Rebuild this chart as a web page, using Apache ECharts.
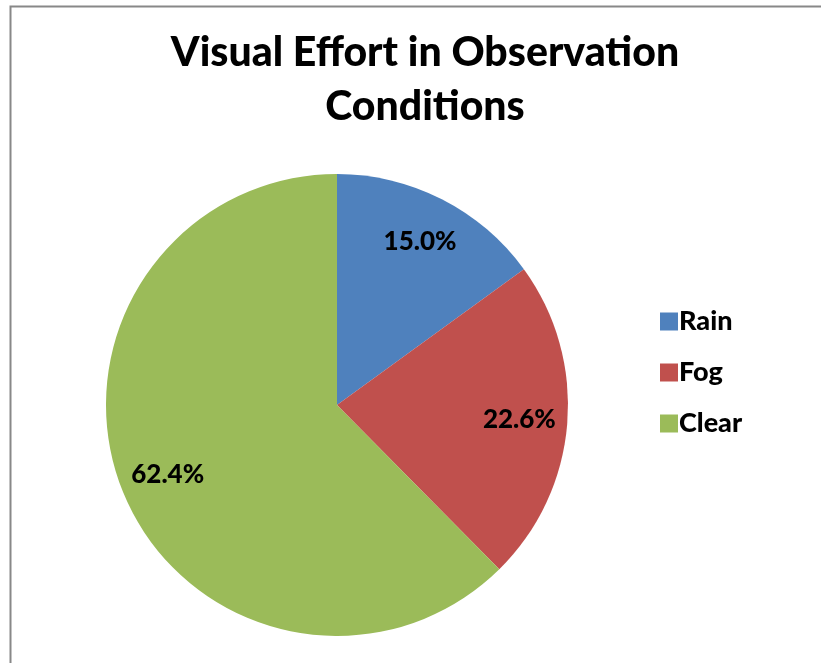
<!DOCTYPE html>
<html><head><meta charset="utf-8">
<script src="https://cdn.jsdelivr.net/npm/echarts@6/dist/echarts.min.js"></script>
<style>html,body{margin:0;padding:0;background:#fff}#c{width:821px;height:663px}</style>
</head><body><div id="c"></div>
<script>
const categories = ['Rain', 'Fog', 'Clear'];
const values = [15.0, 22.6, 62.4];
const colors = ['#4F81BD', '#C0504D', '#9BBB59'];
const FONT = 'Lato';
const WEIGHT = 900;

const chart = echarts.init(document.getElementById('c'), null, {renderer: 'canvas'});
const data = categories.map((c, i) => ({name: c, value: values[i], itemStyle: {color: colors[i]}}));
const ghost = categories.map((c, i) => ({name: c, value: values[i], itemStyle: {color: 'rgba(0,0,0,0)'}}));
chart.setOption({
  animation: false,
  backgroundColor: '#fff',
  graphic: [{
    type: 'rect', left: 8, top: 4, silent: true,
    shape: {width: 840, height: 700},
    style: {fill: 'none', stroke: '#888', lineWidth: 2}
  }],
  title: {
    text: 'Visual Effort in Observation\nConditions',
    left: 420, top: 21, textAlign: 'center',
    textStyle: {fontFamily: FONT, fontWeight: WEIGHT, fontSize: 41, lineHeight: 54, color: '#000'}
  },
  legend: {
    orient: 'vertical', left: 655, top: 303,
    itemWidth: 18, itemHeight: 18, itemGap: 24,
    icon: 'rect',
    data: categories,
    textStyle: {fontFamily: FONT, fontWeight: WEIGHT, fontSize: 27, lineHeight: 24, color: '#000', padding: [0, 0, 0, -4]}
  },
  series: [{
    type: 'pie', center: [337, 405], radius: [0, 231],
    startAngle: 90, clockwise: true,
    data: data,
    label: {show: false},
    labelLine: {show: false},
    emphasis: {disabled: true},
    silent: true
  }, {
    type: 'pie', center: [337, 405], radius: [0, 360],
    startAngle: 90, clockwise: true,
    data: ghost,
    silent: true,
    emphasis: {disabled: true},
    label: {
      show: true, position: 'inside',
      formatter: p => p.value.toFixed(1) + '%',
      fontFamily: FONT, fontWeight: WEIGHT, fontSize: 26, color: '#000'
    },
    labelLine: {show: false}
  }]
});
</script></body></html>
